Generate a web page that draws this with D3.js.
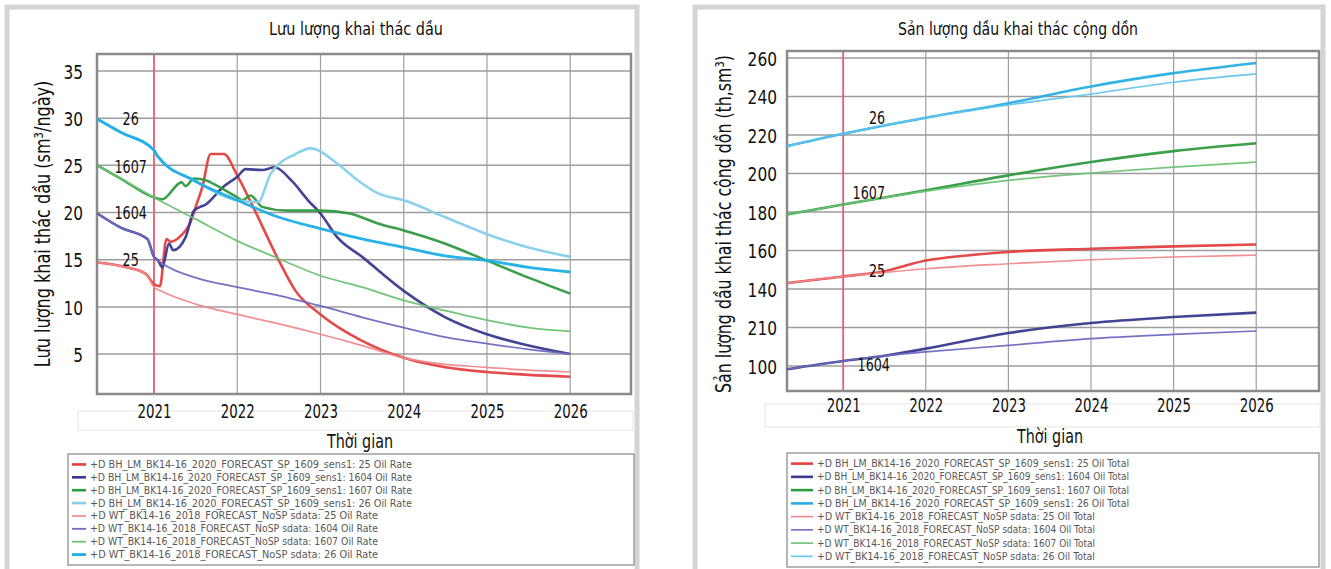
<!DOCTYPE html>
<html lang="vi">
<head>
<meta charset="utf-8">
<script src="https://d3js.org/d3.v7.min.js"></script>
<style>
  body { margin: 0; background: #fff; }
  svg { display: block; }
  text { font-family: "DejaVu Sans Condensed", "Liberation Sans Narrow", "Roboto", sans-serif; fill: #111; }
</style>
</head>
<body>
<div id="chart"></div>
<script>
// ---- data ----
// oil rate, sm3/ngày : BH_LM sens1 forecast (BH) and WT 2018 NoSP forecast (WT)
var rateBH25 = [[2020.32,14.7],[2020.67,14.2],[2020.9,13.5],[2021.0,12.4],[2021.07,12.2],[2021.15,17.2],[2021.2,16.9],[2021.33,17.6],[2021.43,18.8],[2021.5,20.6],[2021.58,22.7],[2021.68,26.2],[2021.84,26.2],[2021.99,24.1],[2022.19,20.6],[2022.5,14.9],[2022.7,11.7],[2023,9.2],[2023.5,6.4],[2024,4.6],[2024.5,3.6],[2025,3.1],[2025.5,2.8],[2026,2.6]];
var rateWT25 = [[2020.32,14.7],[2020.67,14.2],[2020.9,13.5],[2021.0,12.1],[2021.08,11.7],[2021.5,10.3],[2022,9.2],[2022.5,8.2],[2023,7.1],[2023.5,5.9],[2024,4.6],[2024.5,3.9],[2025,3.6],[2025.5,3.3],[2026,3.1]];
var rateBH1604 = [[2020.32,19.9],[2020.6,18.4],[2020.92,17.2],[2021.0,15.3],[2021.05,14.9],[2021.1,14.2],[2021.18,16.7],[2021.23,16.0],[2021.38,17.4],[2021.48,20.2],[2021.63,20.9],[2021.83,22.7],[2022,23.8],[2022.1,24.6],[2022.3,24.5],[2022.45,24.8],[2022.65,23.4],[2022.85,21.3],[2023,19.9],[2023.2,17.4],[2023.5,15.3],[2024,11.7],[2024.5,8.9],[2025,7.1],[2025.5,5.9],[2026,5.0]];
var rateWT1604 = [[2020.32,19.9],[2020.6,18.4],[2020.92,17.2],[2021.0,15.3],[2021.1,14.6],[2021.5,13.1],[2022,12.1],[2022.5,11.2],[2023,10.1],[2023.5,8.9],[2024,7.8],[2024.5,6.8],[2025,6.1],[2025.5,5.5],[2026,5.0]];
var rateBH1607 = [[2020.32,25.0],[2020.6,23.6],[2021,21.6],[2021.1,21.4],[2021.33,23.2],[2021.38,22.8],[2021.48,23.6],[2021.63,23.4],[2021.68,23.2],[2022,21.6],[2022.06,21.3],[2022.16,21.8],[2022.3,20.6],[2022.6,20.2],[2023,20.2],[2023.35,19.9],[2023.7,18.8],[2024,18.1],[2024.5,16.7],[2025,14.9],[2025.5,13.1],[2026,11.4]];
var rateWT1607 = [[2020.32,25.0],[2020.6,23.6],[2021,21.6],[2021.5,19.3],[2022,17.0],[2022.5,15.1],[2023,13.3],[2023.5,12.1],[2024,10.7],[2024.5,9.6],[2025,8.6],[2025.5,7.8],[2026,7.4]];
var rateBH26 = [[2020.32,29.9],[2020.6,28.5],[2021,26.6],[2021.05,25.9],[2021.48,23.4],[2022,21.3],[2022.25,21.1],[2022.4,24.1],[2022.7,26.2],[2022.88,26.8],[2023.2,25.2],[2023.45,23.4],[2023.7,22.0],[2024,21.3],[2024.5,19.5],[2025,17.7],[2025.5,16.3],[2026,15.3]];
var rateWT26 = [[2020.32,29.9],[2020.6,28.5],[2021,26.6],[2021.05,25.9],[2021.48,23.4],[2022,21.3],[2022.5,19.5],[2023,18.3],[2023.5,17.2],[2024,16.3],[2024.5,15.4],[2025,14.9],[2025.5,14.2],[2026,13.7]];

// cumulative oil, th.sm3
var cumBH25 = [[2020.32,143.1],[2021,146.5],[2021.45,148.8],[2022,154.8],[2022.5,157.4],[2023,159.2],[2024,160.9],[2025,162.1],[2026,163.1]];
var cumWT25 = [[2020.32,143.1],[2021,146.5],[2021.45,148.3],[2022,150.5],[2023,153.1],[2024,155.2],[2025,156.6],[2026,157.6]];
var cumBH1604 = [[2020.32,98.3],[2021,102.6],[2021.5,105.3],[2022,109.0],[2023,117.1],[2024,122.3],[2025,125.4],[2026,127.7]];
var cumWT1604 = [[2020.32,98.3],[2021,102.6],[2021.5,105.3],[2022,107.3],[2023,110.7],[2024,114.2],[2025,116.4],[2026,118.2]];
var cumBH1607 = [[2020.32,178.7],[2021,183.9],[2022,191.2],[2023,199.0],[2024,205.9],[2025,211.6],[2026,215.7]];
var cumWT1607 = [[2020.32,178.7],[2021,183.9],[2022,190.8],[2023,196.4],[2024,200.2],[2025,203.3],[2026,205.9]];
var cumBH26 = [[2020.32,214.2],[2021,220.6],[2022,228.9],[2023,236.5],[2024,245.2],[2025,252.1],[2026,257.4]];
var cumWT26 = [[2020.32,214.2],[2021,220.6],[2022,228.9],[2023,235.6],[2024,241.3],[2025,247.4],[2026,251.7]];

var yearTicks = [2021, 2022, 2023, 2024, 2025, 2026];
var rateTicks = [5, 10, 15, 20, 25, 30, 35];
var cumTicks = [100, 120, 140, 160, 180, 200, 220, 240, 260];
var cumTickLabels = ["100", "210", "140", "160", "180", "200", "220", "240", "260"]; // as printed
var wells = ["25", "1604", "1607", "26"];

var rateLabels = [{t: "26", x: 2020.72, y: 30.0}, {t: "1607", x: 2020.72, y: 24.9}, {t: "1604", x: 2020.72, y: 20.0}, {t: "25", x: 2020.72, y: 15.0}];
var cumLabels = [{t: "26", x: 2021.41, y: 229}, {t: "1607", x: 2021.31, y: 190}, {t: "25", x: 2021.41, y: 149.5}, {t: "1604", x: 2021.37, y: 100.5}];

// ---- styles ----
var colBH = {"25": "#e2403f", "1604": "#3a3a8e", "1607": "#2f9a3e", "26": "#86cdea"};
var colWT = {"25": "#ef8a8c", "1604": "#6d6cc0", "1607": "#6cc274", "26": "#1eaee6"};

var W = 1331, H = 569;
var svg = d3.select("#chart").append("svg").attr("width", W).attr("height", H);

// squeeze text to the width it has in the picture (the original face is condensed)
function fit(sel, w) {
    sel.attr("textLength", w).attr("lengthAdjust", "spacingAndGlyphs");
}

function drawPanel(p) {
    // panel frame
    svg.append("rect").attr("x", p.frame[0]).attr("y", p.frame[1])
        .attr("width", p.frame[2] - p.frame[0]).attr("height", H - p.frame[1] + 10)
        .attr("fill", "#fff").attr("stroke", "#d4d4d4").attr("stroke-width", 5);

    var x = d3.scaleLinear().domain(p.xDom).range([p.plot[0], p.plot[2]]);
    var y = d3.scaleLinear().domain(p.yDom).range([p.plot[3], p.plot[1]]);

    // faint axis strip under the plot
    svg.append("rect").attr("x", p.strip[0]).attr("y", p.strip[1])
        .attr("width", p.strip[2] - p.strip[0]).attr("height", p.strip[3] - p.strip[1])
        .attr("fill", "none").attr("stroke", "#e4e4e4").attr("stroke-width", 1);

    var g = svg.append("g");
    // grid
    g.selectAll(".hg").data(p.yTicks).enter().append("line")
        .attr("x1", p.plot[0]).attr("x2", p.plot[2])
        .attr("y1", function(d) { return y(d); }).attr("y2", function(d) { return y(d); })
        .attr("stroke", "#9d9d9d").attr("stroke-width", 1.5);
    g.selectAll(".vg").data(yearTicks).enter().append("line")
        .attr("x1", function(d) { return x(d); }).attr("x2", function(d) { return x(d); })
        .attr("y1", p.plot[1]).attr("y2", p.plot[3])
        .attr("stroke", function(d) { return d === 2021 ? "#e35d7b" : "#a0a0a0"; })
        .attr("stroke-width", function(d) { return d === 2021 ? 1.8 : 1.2; });

    // frame of plot
    g.append("rect").attr("x", p.plot[0]).attr("y", p.plot[1])
        .attr("width", p.plot[2] - p.plot[0]).attr("height", p.plot[3] - p.plot[1])
        .attr("fill", "none").attr("stroke", "#8a8a8a").attr("stroke-width", 2.5);

    // axes (labels only)
    var yAxis = d3.axisLeft(y).tickValues(p.yTicks).tickSize(0).tickPadding(0)
        .tickFormat(function(d, i) { return p.yLabels[i]; });
    var ya = svg.append("g").attr("transform", "translate(" + p.yLabelX + ",0)").call(yAxis);
    ya.select(".domain").remove();
    ya.attr("font-family", null);
    ya.selectAll("text").attr("font-size", 20).attr("dy", "0.36em").attr("fill", "#111")
        .attr("textLength", function() { return this.textContent.length * 9.8; })
        .attr("lengthAdjust", "spacingAndGlyphs");

    var xAxis = d3.axisBottom(x).tickValues(yearTicks).tickSize(0).tickPadding(0)
        .tickFormat(d3.format("d"));
    var xa = svg.append("g").attr("transform", "translate(0," + p.xLabelY + ")").call(xAxis);
    xa.select(".domain").remove();
    xa.attr("font-family", null);
    xa.selectAll("text").attr("font-size", 20).attr("dy", "0.36em").attr("y", 0).attr("fill", "#111")
        .attr("textLength", 34).attr("lengthAdjust", "spacingAndGlyphs");

    // series
    var line = d3.line().x(function(d) { return x(d[0]); }).y(function(d) { return y(d[1]); })
        .curve(d3.curveMonotoneX);
    p.series.forEach(function(s) {
        g.append("path").datum(s.data).attr("d", line).attr("fill", "none")
            .attr("stroke", s.color).attr("stroke-width", s.width)
            .attr("stroke-linejoin", "round").attr("stroke-opacity", 0.95);
    });

    // well labels
    g.selectAll(".wl").data(p.labels).enter().append("text")
        .attr("x", function(d) { return x(d.x); }).attr("y", function(d) { return y(d.y); })
        .attr("dy", "0.36em").attr("text-anchor", "middle").attr("font-size", 18)
        .attr("textLength", function(d) { return d.t.length * 8.1; })
        .attr("lengthAdjust", "spacingAndGlyphs")
        .text(function(d) { return d.t; });

    // titles
    svg.append("text").attr("x", p.titleX).attr("y", 29).attr("dy", "0.36em")
        .attr("text-anchor", "middle").attr("font-size", 18).text(p.title)
        .call(fit, p.titleW);
    svg.append("text").attr("x", p.xTitleX).attr("y", p.xTitleY).attr("dy", "0.36em")
        .attr("text-anchor", "middle").attr("font-size", 20).text("Thời gian")
        .call(fit, 66);
    // y title: measure, then squeeze along the text direction so its box stays inside
    var yt = svg.append("text").attr("dy", "0.36em").attr("text-anchor", "middle")
        .attr("font-size", 22).text(p.yTitle);
    var sx = p.yTitleW / yt.node().getComputedTextLength();
    yt.attr("transform", "translate(" + p.yTitleX + "," + p.yTitleY + ") rotate(-90) scale(" + sx + ",1)");

    // legend
    var L = p.legend;
    svg.append("rect").attr("x", L[0]).attr("y", L[1]).attr("width", L[2] - L[0]).attr("height", L[3] - L[1])
        .attr("fill", "#fff").attr("stroke", "#8f8f8f").attr("stroke-width", 1.3);
    var rowH = (L[3] - L[1] - 8) / p.series.length;
    var lg = svg.selectAll(".lg" + p.id).data(p.series).enter().append("g")
        .attr("transform", function(d, i) { return "translate(" + (L[0] + p.legendPad) + "," + (L[1] + 4 + rowH * (i + 0.5)) + ")"; });
    lg.append("line").attr("x1", 0).attr("x2", p.legendLine).attr("y1", 0).attr("y2", 0)
        .attr("stroke", function(d) { return d.color; }).attr("stroke-width", function(d) { return d.width; });
    lg.append("text").attr("x", p.legendLine + 4).attr("dy", "0.35em").attr("font-size", 10)
        .style("fill", "#585858")
        .attr("textLength", function(d, i) { return i < 4 ? p.legendW[0] : p.legendW[1]; })
        .attr("lengthAdjust", "spacingAndGlyphs")
        .text(function(d) { return d.name; });
}

function makeSeries(bh, wt, unit, widths) {
    var out = [];
    wells.forEach(function(w) {
        out.push({name: "+D BH_LM_BK14-16_2020_FORECAST_SP_1609_sens1: " + w + " " + unit, data: bh[w], color: colBH[w], width: 2.6});
    });
    wells.forEach(function(w) {
        out.push({name: "+D WT_BK14-16_2018_FORECAST_NoSP sdata: " + w + " " + unit, data: wt[w], color: colWT[w], width: widths[w]});
    });
    return out;
}

var rateSeries = makeSeries(
    {"25": rateBH25, "1604": rateBH1604, "1607": rateBH1607, "26": rateBH26},
    {"25": rateWT25, "1604": rateWT1604, "1607": rateWT1607, "26": rateWT26},
    "Oil Rate", {"25": 1.7, "1604": 1.8, "1607": 1.8, "26": 2.8});

var cumSeries = makeSeries(
    {"25": cumBH25, "1604": cumBH1604, "1607": cumBH1607, "26": cumBH26},
    {"25": cumWT25, "1604": cumWT1604, "1607": cumWT1607, "26": cumWT26},
    "Oil Total", {"25": 1.6, "1604": 1.6, "1607": 1.6, "26": 1.6});
cumSeries[3].color = "#2aaee2";
cumSeries[7].color = "#62c4ec";

drawPanel({
    id: "a", frame: [7, 7, 637], plot: [97, 54, 631, 394],
    xDom: [2020.315, 2026.73], yDom: [0.77, 36.8],
    yTicks: rateTicks, yLabels: rateTicks.map(String), yLabelX: 83, xLabelY: 411,
    strip: [78, 411, 633, 430],
    series: rateSeries, labels: rateLabels,
    title: "Lưu lượng khai thác dầu", titleX: 356, titleW: 174,
    xTitleX: 360, xTitleY: 441,
    yTitle: "Lưu lượng khai thác dầu (sm³/ngày)", yTitleX: 42, yTitleY: 224, yTitleW: 287,
    legend: [68, 454, 634, 565], legendPad: 4, legendLine: 14, legendW: [322, 288]
});

drawPanel({
    id: "b", frame: [695, 7, 1323], plot: [787, 51, 1319, 391],
    xDom: [2020.32, 2026.76], yDom: [87.0, 263.6],
    yTicks: cumTicks, yLabels: cumTickLabels, yLabelX: 777, xLabelY: 405,
    strip: [765, 404, 1320, 427],
    series: cumSeries, labels: cumLabels,
    title: "Sản lượng dầu khai thác cộng dồn", titleX: 1018, titleW: 240,
    xTitleX: 1050, xTitleY: 436,
    yTitle: "Sản lượng dầu khai thác cộng dồn (th,sm³)", yTitleX: 723, yTitleY: 224, yTitleW: 338,
    legend: [787, 453, 1319, 567], legendPad: 4, legendLine: 22, legendW: [312, 278]
});
</script>
</body>
</html>
